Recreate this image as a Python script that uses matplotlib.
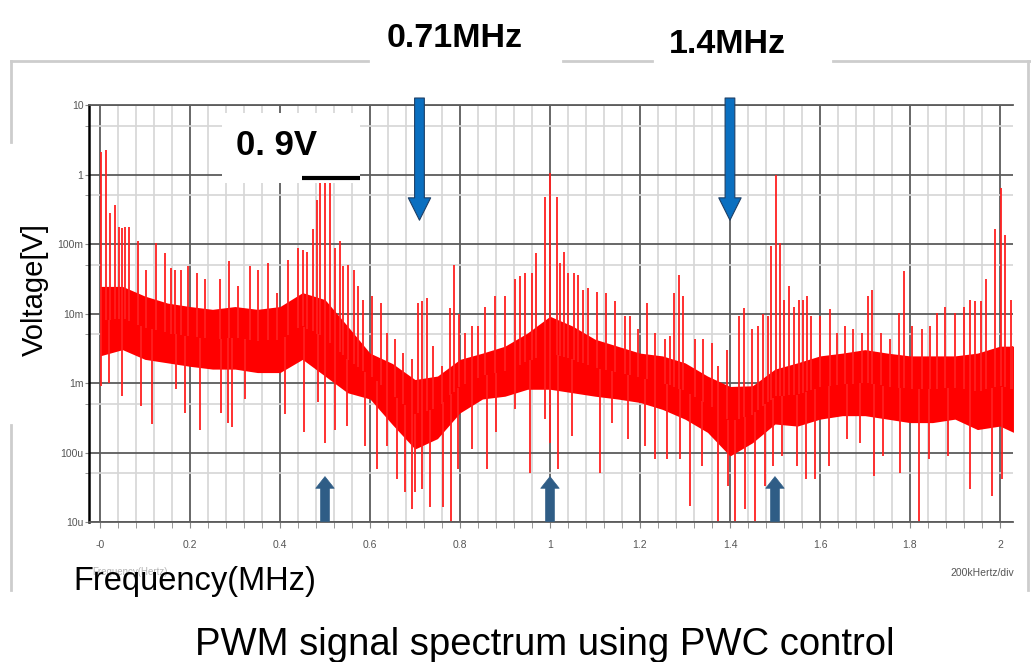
import numpy as np
import matplotlib
matplotlib.use('Agg')
import matplotlib.pyplot as plt
from matplotlib.lines import Line2D
from matplotlib.patches import Rectangle

# ---- data (frequency in MHz, amplitude as log10 of volts) ----
core_freq = [0.00, 0.05, 0.10, 0.15, 0.20, 0.25, 0.30, 0.35, 0.40, 0.45, 0.50,
             0.55, 0.60, 0.65, 0.70, 0.75, 0.80, 0.85, 0.90, 0.95, 1.00,
             1.05, 1.10, 1.15, 1.20, 1.25, 1.30, 1.35, 1.40, 1.45, 1.50,
             1.55, 1.60, 1.65, 1.70, 1.75, 1.80, 1.85, 1.90, 1.95, 2.00, 2.03]
core_hi_exp = [-1.61, -1.61, -1.75, -1.85, -1.90, -1.94, -1.90, -1.94, -1.90, -1.70, -1.80,
               -2.18, -2.57, -2.72, -2.95, -2.90, -2.66, -2.57, -2.47, -2.28, -2.04,
               -2.18, -2.37, -2.47, -2.57, -2.61, -2.71, -2.90, -3.05, -3.04, -2.80,
               -2.71, -2.61, -2.57, -2.52, -2.57, -2.61, -2.61, -2.61, -2.57, -2.47, -2.47]
core_lo_exp = [-2.61, -2.52, -2.66, -2.71, -2.76, -2.80, -2.80, -2.85, -2.85, -2.66, -2.90,
               -3.14, -3.23, -3.60, -3.95, -3.80, -3.43, -3.23, -3.19, -3.09, -3.09,
               -3.14, -3.19, -3.23, -3.28, -3.38, -3.52, -3.71, -4.05, -3.86, -3.59,
               -3.62, -3.52, -3.47, -3.47, -3.52, -3.57, -3.57, -3.52, -3.67, -3.62, -3.71]

spike_freq = [0.002, 0.013, 0.022, 0.033, 0.042, 0.050, 0.056, 0.064, 0.084, 0.102,
              0.124, 0.144, 0.158, 0.167, 0.181, 0.196, 0.216, 0.233, 0.267, 0.287,
              0.307, 0.333, 0.352, 0.374, 0.393, 0.417, 0.441, 0.452, 0.461, 0.473, 0.483,
              0.489, 0.500, 0.511, 0.522, 0.533, 0.541, 0.552, 0.565, 0.574, 0.585,
              0.604, 0.624, 0.637, 0.656, 0.674, 0.693, 0.707, 0.716, 0.726, 0.741,
              0.759, 0.778, 0.787, 0.798, 0.811, 0.826, 0.841, 0.856, 0.878, 0.900,
              0.922, 0.933, 0.944, 0.959, 0.970, 0.989,
              1.000, 1.015, 1.022, 1.032, 1.041, 1.054, 1.063, 1.074, 1.084, 1.104,
              1.124, 1.144, 1.167, 1.178, 1.196, 1.215, 1.233, 1.256, 1.267, 1.276,
              1.287, 1.296, 1.322, 1.341, 1.359, 1.374, 1.393, 1.419, 1.431, 1.448,
              1.463, 1.474, 1.485, 1.491, 1.502,
              1.511, 1.519, 1.531, 1.543, 1.553, 1.563, 1.572, 1.581, 1.601, 1.622,
              1.637, 1.656, 1.674, 1.693, 1.706, 1.716, 1.736, 1.756, 1.776, 1.787,
              1.804, 1.826, 1.844, 1.859, 1.878, 1.900, 1.920, 1.933, 1.944, 1.957,
              1.968, 1.989, 2.002, 2.011, 2.024, 2.030]
spike_exp = [0.33, 0.35, -0.56, -0.44, -0.75, -0.77, -0.75, -0.75, -0.96, -1.37,
             -0.99, -1.13, -1.34, -1.37, -1.37, -1.32, -1.42, -1.51, -1.51, -1.25,
             -1.61, -1.32, -1.37, -1.27, -1.70, -1.23, -1.06, -1.08, -1.11, -0.79, -0.36,
             -0.12, -0.12, -0.12, -1.06, -0.96, -1.32, -1.30, -1.37, -1.61, -1.80,
             -1.75, -1.85, -2.28, -2.37, -2.57, -2.66, -1.85, -1.82, -1.78, -2.47,
             -2.76, -1.92, -1.30, -2.01, -2.28, -2.18, -2.18, -1.90, -1.75, -1.75,
             -1.51, -1.46, -1.42, -1.42, -1.13, -0.32,
             0.02, -0.32, -1.27, -1.11, -1.42, -1.42, -1.44, -1.66, -1.63, -1.69,
             -1.70, -1.82, -2.04, -2.04, -2.23, -1.85, -2.28, -2.37, -2.33, -1.70,
             -1.44, -1.75, -2.37, -2.37, -2.42, -2.76, -2.52, -2.04, -1.92, -2.23,
             -2.18, -2.01, -2.04, -1.03, -0.01,
             -0.99, -1.80, -1.61, -1.90, -1.80, -1.80, -1.75, -2.04, -2.04, -1.94,
             -2.28, -2.18, -2.23, -2.28, -1.75, -1.66, -2.28, -2.37, -1.99, -1.39,
             -2.18, -2.23, -2.18, -1.99, -1.90, -1.99, -1.90, -1.80, -1.82, -1.82,
             -1.51, -0.79, -0.20, -0.87, -1.80, -2.47]

dip_freq = [0.002, 0.019, 0.050, 0.091, 0.115, 0.170, 0.189, 0.222, 0.270, 0.284,
            0.294, 0.322, 0.411, 0.453, 0.485,
            0.500, 0.522, 0.548, 0.589, 0.615, 0.637, 0.659, 0.678, 0.693, 0.700,
            0.715, 0.733, 0.763, 0.781, 0.796, 0.826, 0.859, 0.881, 0.922, 0.956, 0.989,
            1.000, 1.017, 1.048, 1.111, 1.137, 1.174, 1.211, 1.233, 1.259, 1.289,
            1.311, 1.337, 1.374, 1.395, 1.411, 1.433, 1.456, 1.478, 1.496,
            1.515, 1.548, 1.568, 1.589, 1.619, 1.659, 1.689, 1.719, 1.741, 1.778,
            1.820, 1.842, 1.885, 1.933, 1.983, 2.004]
dip_exp = [-3.04, -3.00, -3.19, -3.33, -3.59, -3.09, -3.43, -3.67, -3.43, -3.57,
           -3.64, -3.23, -3.45, -3.71, -3.28,
           -3.86, -3.67, -3.62, -3.90, -4.24, -3.90, -4.38, -4.57, -4.81, -4.57,
           -4.53, -4.79, -4.79, -5.10, -4.24, -3.95, -4.24, -3.71, -3.38, -4.29, -3.52,
           -3.86, -4.24, -3.76, -4.29, -3.57, -3.81, -3.90, -4.10, -4.10, -4.10,
           -4.77, -4.19, -5.05, -4.48, -5.10, -4.81, -5.00, -4.48, -4.19,
           -4.05, -4.19, -4.38, -4.38, -4.19, -3.81, -3.86, -4.34, -4.05, -4.29,
           -5.00, -4.10, -4.05, -4.53, -4.62, -4.38]

marked_freqs = [0.71, 1.4]            # big blue arrows
harmonic_freqs = [0.5, 1.0, 1.5]      # small up arrows
level_v = 0.9

xtick_vals = [0, 0.2, 0.4, 0.6, 0.8, 1.0, 1.2, 1.4, 1.6, 1.8, 2.0]
xtick_labels = ['-0', '0.2', '0.4', '0.6', '0.8', '1', '1.2', '1.4', '1.6', '1.8', '2']
ytick_vals = [1e-5, 1e-4, 1e-3, 1e-2, 1e-1, 1, 10]
ytick_labels = ['10u', '100u', '1m', '10m', '100m', '1', '10']
ytick_minor = [5e-5, 5e-4, 5e-3, 5e-2, 5e-1, 5]

W, H = 1031, 662
def fx(px):
    return px / W
def fy(py):
    return 1 - py / H

plt.rcParams['font.family'] = ['Liberation Sans', 'DejaVu Sans']
small_font = ['Liberation Sans Narrow', 'Liberation Sans', 'DejaVu Sans']

fig = plt.figure(figsize=(W / 100, H / 100), dpi=100)
ax = fig.add_axes([fx(89), fy(522), (1013 - 89) / W, (522 - 105) / H])
ax.set_yscale('log')
ax.set_xlim(-0.0244, 2.029)
ax.set_ylim(1e-5, 10)

# grid
ax.set_xticks(xtick_vals)
ax.set_xticklabels(xtick_labels, family=small_font)
ax.set_xticks(np.arange(0, 2.03, 0.04), minor=True)
ax.set_yticks(ytick_vals)
ax.set_yticklabels(ytick_labels, family=small_font)
ax.set_yticks(ytick_minor, minor=True)
ax.yaxis.set_minor_formatter(matplotlib.ticker.NullFormatter())
ax.grid(which='minor', color='#d6d6d6', lw=1.2, zorder=0)
ax.grid(which='major', color='#5c5c5c', lw=1.3, zorder=0.5)
ax.set_axisbelow(True)
ax.tick_params(axis='x', which='both', length=4, color='#888888', pad=9,
               labelsize=7.5, labelcolor='#555555')
ax.tick_params(axis='y', which='both', length=3, color='#888888', pad=1,
               labelsize=7.5, labelcolor='#555555')
ax.spines['right'].set_visible(False)
ax.spines['left'].set_color('black')
ax.spines['left'].set_linewidth(1.8)
for s in ('top', 'bottom'):
    ax.spines[s].set_color('#5c5c5c')
    ax.spines[s].set_linewidth(1.3)

# white label box inside the plot
ax.add_patch(Rectangle((0.144, 0.813), 0.149, 0.168, transform=ax.transAxes,
                       facecolor='white', edgecolor='none', zorder=1))

# spectrum
cf = np.array(core_freq)
hi = np.array(core_hi_exp)
lo = np.array(core_lo_exp)
mid = (hi + lo) / 2
ax.fill_between(cf, 10 ** lo, 10 ** hi, color='#ff0000', lw=0, zorder=2)
ax.vlines(spike_freq, 10 ** np.interp(spike_freq, cf, mid), 10 ** np.array(spike_exp),
          colors='#ff2020', lw=1.3, zorder=2)
ax.vlines(dip_freq, 10 ** np.interp(dip_freq, cf, mid), 10 ** np.array(dip_exp),
          colors='#ff2020', lw=1.3, zorder=2)

# 0.9 V marker
ax.plot([0.45, 0.578], [level_v, level_v], color='black', lw=3, solid_capstyle='butt', zorder=3)

# arrows
for f in marked_freqs:
    ax.annotate('', xy=(f, 0.22), xytext=(f, 12.6), annotation_clip=False,
                arrowprops=dict(arrowstyle='simple,head_length=1.15,head_width=1.15,tail_width=0.5',
                                fc='#0a6fc0', ec='#1d3f66', lw=0.8, shrinkA=0, shrinkB=0,
                                mutation_scale=14), zorder=5)
for f in harmonic_freqs:
    ax.annotate('', xy=(f, 4.5e-5), xytext=(f, 1.02e-5), annotation_clip=False,
                arrowprops=dict(arrowstyle='simple,head_length=0.6,head_width=0.95,tail_width=0.45',
                                fc='#2f5d86', ec='#2f5d86', lw=0.5, shrinkA=0, shrinkB=0,
                                mutation_scale=14), zorder=5)

# outer light frame (partly hidden behind labels)
frame_col = '#cdcdcd'
for (x0, y0, x1, y1) in [(11, 61, 368, 61), (563, 61, 652, 61), (833, 61, 1031, 61),
                         (11, 61, 11, 142), (11, 425, 11, 590), (1028, 61, 1028, 590)]:
    fig.add_artist(Line2D([fx(x0), fx(x1)], [fy(y0), fy(y1)], color=frame_col, lw=2))

# texts
fig.text(fx(455), fy(47), '0.71MHz', ha='center', va='baseline', fontsize=24.5, weight='bold')
fig.text(fx(727), fy(53), '1.4MHz', ha='center', va='baseline', fontsize=24.5, weight='bold')
fig.text(fx(277), fy(155), '0. 9V', ha='center', va='baseline', fontsize=25, weight='bold')
fig.text(fx(35), fy(290), 'Voltage[V]', rotation=90, ha='center', va='center', fontsize=21)
fig.text(fx(92), fy(572), 'Frequency(Hertz)', ha='left', va='center', fontsize=7,
         color='#b5b5b5', family=small_font)
fig.text(fx(73), fy(590), 'Frequency(MHz)', ha='left', va='baseline', fontsize=23.5)
fig.text(fx(1014), fy(573), '200kHertz/div', ha='right', va='center', fontsize=7.5,
         color='#555555', family=small_font)
fig.text(fx(545), fy(655), 'PWM signal spectrum using PWC control', ha='center',
         va='baseline', fontsize=27.5)

fig.savefig('out.png', dpi=100, facecolor='white')
